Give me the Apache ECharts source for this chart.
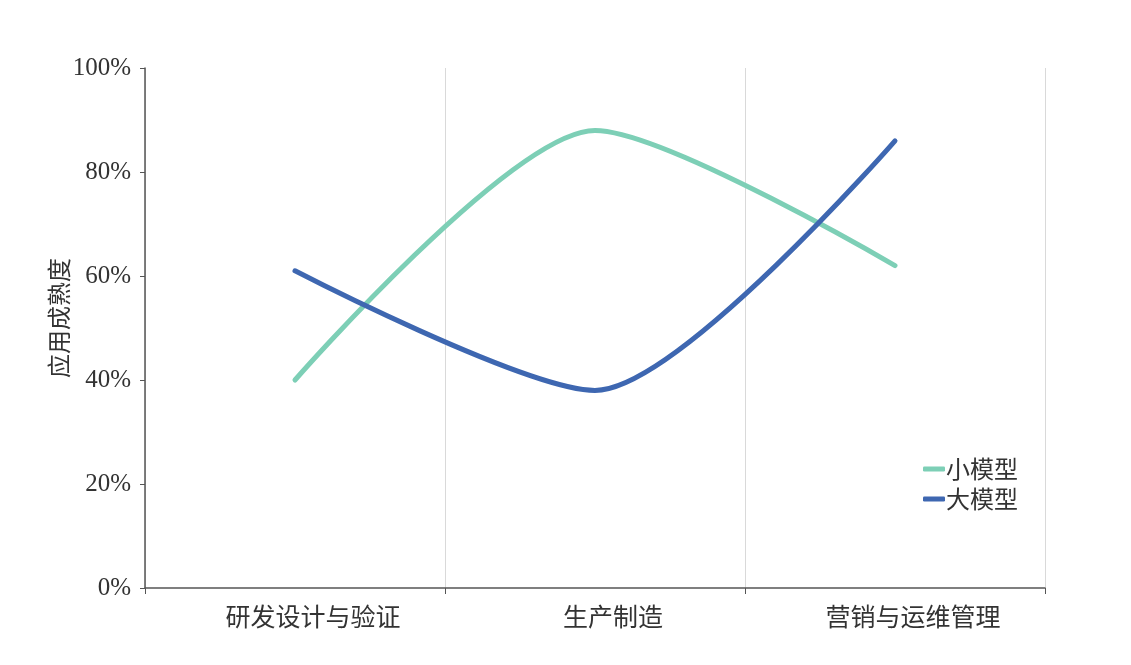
<!DOCTYPE html>
<html><head><meta charset="utf-8">
<script src="https://cdn.jsdelivr.net/npm/echarts@6/dist/echarts.min.js"></script>
<style>html,body{margin:0;padding:0;background:#fff}#c{width:1131px;height:665px}</style>
</head><body><div id="c"></div>
<script>
const categories = ['研发设计与验证', '生产制造', '营销与运维管理'];
const smallModel = [40, 88, 62];
const largeModel = [61, 38, 86];
const yTicks = [0, 20, 40, 60, 80, 100];
const seriesNames = ['小模型', '大模型'];

const serif = '"Liberation Serif", "Noto Sans CJK SC", serif';
const cjk = '"Noto Sans CJK SC", sans-serif';
const chart = echarts.init(document.getElementById('c'));
chart.setOption({
  backgroundColor: '#fff',
  animation: false,
  grid: { left: 145, right: 86, top: 68, bottom: 77 },
  legend: {
    orient: 'vertical', right: 108, top: 452, itemGap: 6,
    icon: 'roundRect', itemWidth: 22, itemHeight: 5,
    textStyle: { fontFamily: cjk, fontSize: 24, color: '#333', padding: [0, 0, 0, -4] },
    data: seriesNames
  },
  xAxis: {
    type: 'category', data: categories, boundaryGap: true,
    axisLine: { lineStyle: { color: '#555', width: 1.5 } },
    axisTick: { show: true, length: 6, lineStyle: { color: '#555' } },
    axisLabel: { fontFamily: cjk, fontSize: 25, color: '#333', margin: 16, padding: [0, 0, 0, 36] },
    splitLine: { show: true, lineStyle: { color: '#d9d9d9', width: 1 } }
  },
  yAxis: {
    type: 'value', min: yTicks[0], max: yTicks[yTicks.length - 1], interval: 20,
    name: '应用成熟度', nameLocation: 'middle', nameGap: 74, nameMoveOverlap: false,
    nameTextStyle: { fontFamily: cjk, fontSize: 24, color: '#333', padding: [0, 0, 0, 20] },
    axisLine: { show: true, lineStyle: { color: '#555', width: 1.5 } },
    axisTick: { show: true, length: 5, lineStyle: { color: '#555' } },
    axisLabel: { fontFamily: serif, fontSize: 25, color: '#333', margin: 14, formatter: v => v + '%' },
    splitLine: { show: false }
  },
  series: [
    { name: seriesNames[0], type: 'line', data: smallModel, smooth: 0.25, symbol: 'none',
      lineStyle: { color: '#7dcfb6', width: 5, cap: 'round' }, itemStyle: { color: '#7dcfb6' } },
    { name: seriesNames[1], type: 'line', data: largeModel, smooth: 0.25, symbol: 'none',
      lineStyle: { color: '#3e67b1', width: 5, cap: 'round' }, itemStyle: { color: '#3e67b1' } }
  ]
});
</script></body></html>
